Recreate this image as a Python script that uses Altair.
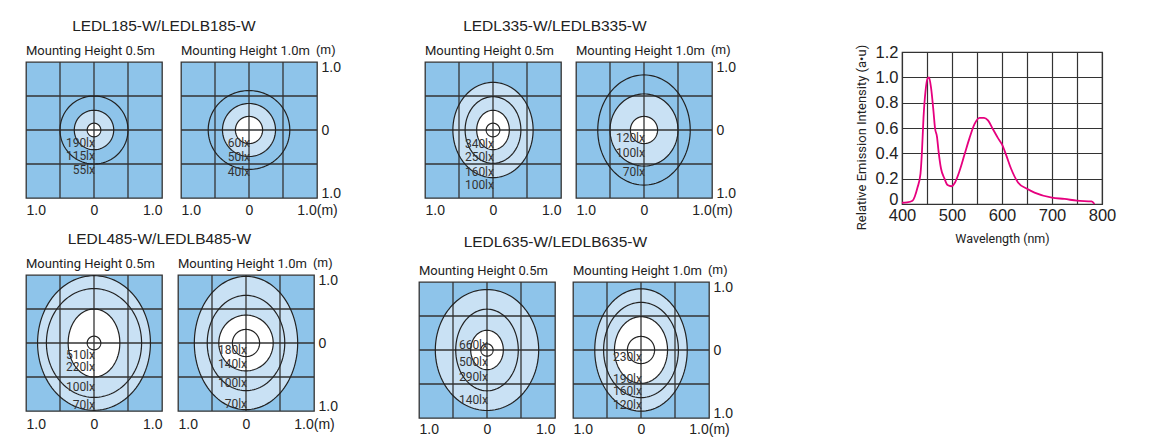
import altair as alt
import numpy as np
import pandas as pd

# ---------------- data ----------------
model_names = ["LEDL185-W/LEDLB185-W", "LEDL335-W/LEDLB335-W",
               "LEDL485-W/LEDLB485-W", "LEDL635-W/LEDLB635-W"]
height_titles = ["Mounting Height 0.5m", "Mounting Height 1.0m"]
grid_ticks = [-0.5, 0.0, 0.5]
edge_ticks = [-1.0, 0.0, 1.0]
unit_text = "(m)"

# isolux contour semi-axes in metres (x, y), innermost first
a_rx = [0.10, 0.29, 0.50]; a_ry = [0.10, 0.29, 0.50]
a_lux = ["190lx", "115lx", "55lx"]; a_luxy = [-0.19, -0.38, -0.59]
b_rx = [0.20, 0.39, 0.60]; b_ry = [0.20, 0.39, 0.58]
b_lux = ["60lx", "50lx", "40lx"]; b_luxy = [-0.19, -0.40, -0.62]
c_rx = [0.10, 0.24, 0.41, 0.59]; c_ry = [0.10, 0.29, 0.49, 0.70]
c_lux = ["340lx", "250lx", "160lx", "100lx"]; c_luxy = [-0.20, -0.40, -0.62, -0.81]
d_rx = [0.20, 0.50, 0.68]; d_ry = [0.20, 0.53, 0.81]
d_lux = ["120lx", "100lx", "70lx"]; d_luxy = [-0.12, -0.34, -0.62]
e_rx = [0.10, 0.38, 0.70, 0.83]; e_ry = [0.10, 0.50, 0.80, 0.99]
e_lux = ["510lx", "220lx", "100lx", "70lx"]; e_luxy = [-0.17, -0.36, -0.64, -0.91]
f_rx = [0.20, 0.40, 0.57, 0.76]; f_ry = [0.20, 0.41, 0.70, 0.98]
f_lux = ["180lx", "140lx", "100lx", "70lx"]; f_luxy = [-0.11, -0.31, -0.59, -0.90]
g_rx = [0.09, 0.24, 0.46, 0.76]; g_ry = [0.09, 0.29, 0.60, 0.89]
g_lux = ["660lx", "500lx", "290lx", "140lx"]; g_luxy = [0.07, -0.18, -0.40, -0.73]
h_rx = [0.20, 0.39, 0.55, 0.68]; h_ry = [0.20, 0.49, 0.70, 0.90]
h_lux = ["230lx", "190lx", "160lx", "120lx"]; h_luxy = [-0.10, -0.42, -0.61, -0.81]
# (ring bounding the light-blue zone, ring bounding the white zone)
a_zones = (1, 0); b_zones = (1, 0); c_zones = (3, 1); d_zones = (1, 0)
e_zones = (3, 1); f_zones = (3, 1); g_zones = (3, 1); h_zones = (3, 1)

# spectral distribution
spec_wl = [400, 410, 421, 431, 437, 440, 443, 447, 451, 454, 458, 463, 466, 470,
           473, 478, 485, 491, 499, 506, 515, 525, 535, 545, 555, 564, 572, 582,
           592, 600, 608, 618, 632, 650, 665, 700, 725, 750, 779, 785]
spec_ri = [0.01, 0.013, 0.026, 0.13, 0.24, 0.42, 0.68, 0.89, 0.99, 1.0, 0.92, 0.73,
           0.60, 0.53, 0.42, 0.28, 0.20, 0.15, 0.14, 0.17, 0.26, 0.39, 0.52, 0.63,
           0.68, 0.68, 0.66, 0.59, 0.52, 0.47, 0.39, 0.28, 0.17, 0.12, 0.09, 0.05,
           0.04, 0.026, 0.02, 0.0]
wl_ticks = [400, 450, 500, 550, 600, 650, 700, 750, 800]
ri_ticks = [0, 0.2, 0.4, 0.6, 0.8, 1.0, 1.2]

# ---------------- style ----------------
BLUE = "#8ec4ea"
LIGHT = "#c9e1f4"
INK = "#222222"
GRID = "#333333"
MAGENTA = "#e6007e"
NARROW = "Roboto, Liberation Sans, sans-serif"
SANS = "Liberation Sans, Arial, sans-serif"
PW = 136


def ring_outline(rx, ry):
    t = np.linspace(0, 2 * np.pi, 121)
    frames = []
    for i, (a, b) in enumerate(zip(rx, ry)):
        frames.append(pd.DataFrame({"ring": i, "k": np.arange(len(t)),
                                    "x": a * np.cos(t), "y": b * np.sin(t)}))
    return pd.concat(frames, ignore_index=True)


def ring_fill(rx, ry, idx):
    t = np.linspace(np.pi, 0, 121)
    a, b = rx[idx], ry[idx]
    return pd.DataFrame({"x": a * np.cos(t), "y": b * np.sin(t), "y2": -b * np.sin(t)})


def panel(rx, ry, zones, lux, luxy, title, right, label_pad=6):
    xs = alt.Scale(domain=[-1, 1], nice=False, zero=False)
    ys = alt.Scale(domain=[-1, 1], nice=False, zero=False)
    common = dict(grid=False, ticks=False, domain=False, title=None,
                  labelFont=SANS, labelFontSize=14, labelColor=INK, labelOverlap=False)
    if right:
        xaxis = alt.Axis(values=edge_ticks, labelPadding=label_pad,
                         labelExpr="datum.value == 0 ? '0' : (datum.value > 0 ? '1.0(m)' : '1.0')",
                         labelAlign={"condition": {"test": "datum.value < 0", "value": "left"},
                                     "value": "center"},
                         **common)
        yaxis = alt.Axis(orient="right", values=edge_ticks, labelPadding=4,
                         labelExpr="datum.value == 0 ? '0' : '1.0'", labelFlush=True,
                         labelFlushOffset=2, labelAlign="left", **common)
    else:
        xaxis = alt.Axis(values=edge_ticks, labelPadding=label_pad, labelFlush=True,
                         labelExpr="datum.value == 0 ? '0' : '1.0'", **common)
        yaxis = None

    def X(f):
        return alt.X(f, type="quantitative", scale=xs, axis=xaxis)

    def Y(f):
        return alt.Y(f, type="quantitative", scale=ys, axis=yaxis)

    light = alt.Chart(ring_fill(rx, ry, zones[0])).mark_area(color=LIGHT, clip=True).encode(
        x=X("x"), y=Y("y"), y2="y2")
    white = alt.Chart(ring_fill(rx, ry, zones[1])).mark_area(color="white", clip=True).encode(
        x=X("x"), y=Y("y"), y2="y2")
    gdf = pd.DataFrame({"g": grid_ticks})
    vgrid = alt.Chart(gdf).mark_rule(color=GRID, strokeWidth=1.3).encode(x=X("g"))
    hgrid = alt.Chart(gdf).mark_rule(color=GRID, strokeWidth=1.3).encode(y=Y("g"))
    rings = alt.Chart(ring_outline(rx, ry)).mark_line(color=INK, strokeWidth=1.2, clip=True).encode(
        x=X("x"), y=Y("y"), detail="ring:N", order="k:Q")
    ldf = pd.DataFrame({"t": lux, "y": luxy, "x": [0.0] * len(lux)})
    labels = alt.Chart(ldf).mark_text(align="right", baseline="middle", font=NARROW,
                                      fontSize=12, color="#333333", dx=1).encode(
        x=X("x"), y=Y("y"), text="t:N")
    # panel heading, anchored at the top-left corner of the plot
    tdf = pd.DataFrame({"t": [title], "x": [edge_ticks[0]], "y": [edge_ticks[-1]]})
    head = alt.Chart(tdf).mark_text(align="left", baseline="alphabetic", font=NARROW,
                                    fontSize=13, color=INK, dy=-7).encode(
        x=X("x"), y=Y("y"), text="t:N")
    layers = [light, white, vgrid, hgrid, rings, labels, head]
    if right:
        udf = pd.DataFrame({"t": [unit_text], "x": [edge_ticks[-1]], "y": [edge_ticks[-1]]})
        unit = alt.Chart(udf).mark_text(align="left", baseline="alphabetic", font=SANS,
                                        fontSize=13, color=INK, dx=-1, dy=-8).encode(
            x=X("x"), y=Y("y"), text="t:N")
        layers.append(unit)
    return alt.layer(*layers).properties(
        width=PW, height=PW,
        view=alt.ViewBackground(fill=BLUE, stroke=GRID, strokeWidth=1.3),
    )


def spacer(w, h):
    return alt.Chart(pd.DataFrame({"v": [0]})).mark_point(opacity=0, size=1).encode(
        x=alt.X("v:Q", axis=None), y=alt.Y("v:Q", axis=None)
    ).properties(width=w, height=h, view=alt.ViewBackground(stroke="transparent"))


def group_title(text, dx, offset):
    return alt.TitleParams(text, anchor="middle", dx=dx, font=SANS, fontSize=15.5,
                           fontWeight="normal", color=INK, offset=offset)


A = panel(a_rx, a_ry, a_zones, a_lux, a_luxy, height_titles[0], False, 5.5)
B = panel(b_rx, b_ry, b_zones, b_lux, b_luxy, height_titles[1], True, 5.5)
C = panel(c_rx, c_ry, c_zones, c_lux, c_luxy, height_titles[0], False, 5.5)
D = panel(d_rx, d_ry, d_zones, d_lux, d_luxy, height_titles[1], True, 5.5)
E = panel(e_rx, e_ry, e_zones, e_lux, e_luxy, height_titles[0], False, 6)
F = panel(f_rx, f_ry, f_zones, f_lux, f_luxy, height_titles[1], True, 6)
G = panel(g_rx, g_ry, g_zones, g_lux, g_luxy, height_titles[0], False, 4)
H = panel(h_rx, h_ry, h_zones, h_lux, h_luxy, height_titles[1], True, 4)

g1 = alt.hconcat(A, B, spacing=15, title=group_title(model_names[0], -19, 8.5))
g2 = alt.hconcat(C, D, spacing=11, title=group_title(model_names[1], -25, 8.5))
g3in = alt.hconcat(E, F, spacing=12, title=group_title(model_names[2], -22, 8.5))
g4in = alt.hconcat(G, H, spacing=14, title=group_title(model_names[3], -20, 12.5))
g3 = alt.vconcat(spacer(300, 1), g3in, spacing=0)
g4 = alt.vconcat(spacer(300, 1), g4in, spacing=3)
row1 = alt.hconcat(g1, g2, spacing=81)
row2 = alt.hconcat(g3, g4, spacing=78)
rows = alt.vconcat(row1, row2, spacing=10)
left = alt.vconcat(spacer(677, 1), rows, spacing=0)

spec_df = pd.DataFrame({"wl": spec_wl, "ri": spec_ri})
spec = alt.Chart(spec_df).mark_line(color=MAGENTA, strokeWidth=1.8, interpolate="monotone").encode(
    x=alt.X("wl:Q", scale=alt.Scale(domain=[400, 800], nice=False, zero=False),
            axis=alt.Axis(values=wl_ticks, labelExpr="datum.value % 100 == 0 ? datum.label : ''",
                          grid=True, gridColor=GRID, gridWidth=1.2, ticks=False, domain=False,
                          labelOverlap=False, labelFlush=False, labelFont=SANS,
                          labelFontSize=16.5, labelColor=INK, labelPadding=3,
                          title="Wavelength (nm)", titleFont=NARROW, titleFontSize=12.5,
                          titleFontWeight="normal", titleColor=INK, titlePadding=9)),
    y=alt.Y("ri:Q", scale=alt.Scale(domain=[0, 1.2], nice=False),
            axis=alt.Axis(values=ri_ticks,
                          labelExpr="datum.value == 0 ? '0' : format(datum.value, '.1f')",
                          labelBaseline={"condition": {"test": "datum.value == 0",
                                                       "value": "alphabetic"},
                                         "value": "middle"},
                          grid=True, gridColor=GRID, gridWidth=1.2, ticks=False, domain=False,
                          labelOverlap=False, labelFlush=False, labelFont=SANS,
                          labelFontSize=16.5, labelColor=INK, labelPadding=4,
                          title="Relative Emission Intensity (a•u)",
                          titleFont=NARROW, titleFontSize=13, titleFontWeight="normal",
                          titleColor=INK, titlePadding=7, titleY=85)),
).properties(width=200, height=152, view=alt.ViewBackground(fill="white", stroke=GRID, strokeWidth=1.2))

spec_col = alt.vconcat(spacer(200, 1), spec, spacing=24)

chart = alt.hconcat(left, spec_col, spacing=117).properties(
    padding={"left": 16, "top": 8, "right": 5, "bottom": 5}
)

chart.save("out.html", embed_options={"renderer": "svg", "actions": False})
